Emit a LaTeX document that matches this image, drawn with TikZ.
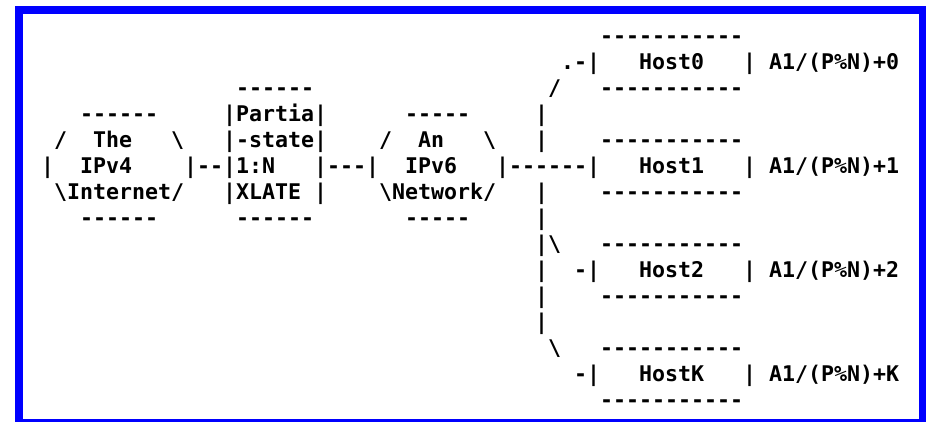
\documentclass[tikz,border=0pt]{standalone}
\usepackage{fontspec}
\setmonofont{DejaVu Sans Mono}
\usepackage{tikz}
\usetikzlibrary{positioning}
\definecolor{frameBlue}{rgb}{0,0,1}
\tikzset{
  ascii/.style={
    anchor=base west,
    inner sep=0pt,
    outer sep=0pt,
    font=\fontsize{21.6pt}{26pt}\selectfont\ttfamily\bfseries
  }
}

\begin{document}
\begin{tikzpicture}
  \useasboundingbox (0,0) rectangle (926pt,-421pt);
  \draw[frameBlue, line width=8pt] (19pt,-10pt) rectangle (923pt,-423pt);

  \begin{scope}[shift={(41pt,-43pt)}, x=13pt, y=-26pt, every node/.style={ascii}]

    % IPv4 internet
    \node (v4top) at (3,3) {------};
    \node (v4l1) at (1,4) {/};
    \node (v4the) at (4,4) {The};
    \node (v4r1) at (10,4) {\textbackslash};
    \node (v4l2) at (0,5) {|};
    \node (v4name) at (3,5) {IPv4};
    \node (v4net) at (1,6) {\textbackslash Internet/};
    \node (v4bot) at (3,7) {------};

    % xlate box
    \node (xtop) at (15,2) {------};
    \node (x1) at (14,3) {|Partia|};
    \node (x2) at (14,4) {|-state|};
    \node (x3) at (11,5) {|--|1:N};
    \node (x4) at (21,5) {|---|};
    \node (x5) at (14,6) {|XLATE};
    \node (x6) at (21,6) {|};
    \node (xbot) at (15,7) {------};

    % IPv6 network
    \node (v6top) at (28,3) {-----};
    \node (v6l1) at (26,4) {/};
    \node (v6an) at (29,4) {An};
    \node (v6r1) at (34,4) {\textbackslash};
    \node (v6name) at (28,5) {IPv6};
    \node (v6link) at (35,5) {|------|};
    \node (v6net) at (26,6) {\textbackslash Network/};
    \node (v6bot) at (28,7) {-----};

    % trunk
    \node (tr0) at (40,1) {.-|};
    \node (tr1) at (39,2) {/};
    \foreach \r in {3,4,6,7,9,10,11}{
      \node (bar\r) at (38,\r) {|};
    }
    \node (tr8) at (38,8) {|\textbackslash};
    \node (tr9) at (41,9) {-|};
    \node (tr12) at (39,12) {\textbackslash};
    \node (tr13) at (41,13) {-|};

    % hosts
    \foreach \r/\s in {1/0, 5/1, 9/2, 13/K}{
      \node (top\s) at (43,\r-1) {-----------};
      \node (host\s) at (46,\r) {Host\s};
      \node (edge\s) at (54,\r) {|};
      \node (addr\s) at (56,\r) {A1/(P\%N)+\s};
      \node (bot\s) at (43,\r+1) {-----------};
    }
  \end{scope}
\end{tikzpicture}
\end{document}
